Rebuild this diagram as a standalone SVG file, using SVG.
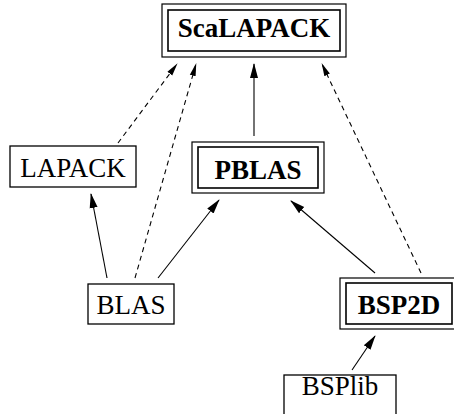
<svg xmlns="http://www.w3.org/2000/svg" width="454" height="414" viewBox="0 0 454 414">
<defs>
<style>
.box{fill:#fff;stroke:#000;stroke-width:1.3}
.outer{fill:#fff;stroke:#000;stroke-width:1.2}
.inner{fill:none;stroke:#000;stroke-width:1.6}
.t{font-family:"Liberation Serif","Times New Roman",serif;font-size:27px;fill:#000;text-anchor:middle}
.b{font-weight:bold}
.e{fill:none;stroke:#000;stroke-width:1.1}
.d{stroke-dasharray:5 4}
</style>
<marker id="ah" markerUnits="userSpaceOnUse" markerWidth="16" markerHeight="10" refX="14" refY="4" orient="auto" viewBox="0 0 16 8">
<path d="M0,0 L15,4 L0,8 z" fill="#000"/>
</marker>
<marker id="ahs" markerUnits="userSpaceOnUse" markerWidth="13" markerHeight="8" refX="12" refY="3" orient="auto" viewBox="0 0 13 6">
<path d="M0,0 L13,3 L0,6 z" fill="#000"/>
</marker>
</defs>
<g id="connectors">
<line class="e d" x1="118" y1="143" x2="177" y2="64" marker-end="url(#ahs)"/>
<line class="e d" x1="135" y1="278" x2="196" y2="64" marker-end="url(#ahs)"/>
<line class="e" x1="254" y1="136" x2="254" y2="64" marker-end="url(#ah)"/>
<line class="e d" x1="421" y1="273" x2="322" y2="64" marker-end="url(#ahs)"/>
<line class="e" x1="107" y1="278" x2="91" y2="194" marker-end="url(#ah)"/>
<line class="e" x1="158" y1="278" x2="219" y2="200" marker-end="url(#ah)"/>
<line class="e" x1="375" y1="273" x2="291" y2="201" marker-end="url(#ah)"/>
<line class="e" x1="352" y1="370" x2="375" y2="336" marker-end="url(#ah)"/>
</g>
<g id="ScaLAPACK">
<rect class="outer" x="162" y="4" width="184" height="53"/>
<rect class="inner" x="168" y="10" width="172" height="41"/>
<text class="t b" x="254" y="37">ScaLAPACK</text>
</g>
<g id="LAPACK">
<rect class="box" x="10" y="146" width="126" height="41"/>
<text class="t" x="73" y="177">LAPACK</text>
</g>
<g id="PBLAS">
<rect class="outer" x="192" y="142" width="132" height="51"/>
<rect class="inner" x="198" y="147" width="120" height="41"/>
<text class="t b" x="258" y="179">PBLAS</text>
</g>
<g id="BLAS">
<rect class="box" x="88" y="284" width="86" height="40"/>
<text class="t" x="131" y="314">BLAS</text>
</g>
<g id="BSP2D">
<rect class="outer" x="340" y="278" width="118" height="51"/>
<rect class="inner" x="346" y="283" width="106" height="41"/>
<text class="t b" x="399" y="314">BSP2D</text>
</g>
<g id="BSPlib">
<rect class="box" x="284" y="375" width="112" height="44"/>
<text class="t" x="340" y="395">BSPlib</text>
</g>
</svg>
